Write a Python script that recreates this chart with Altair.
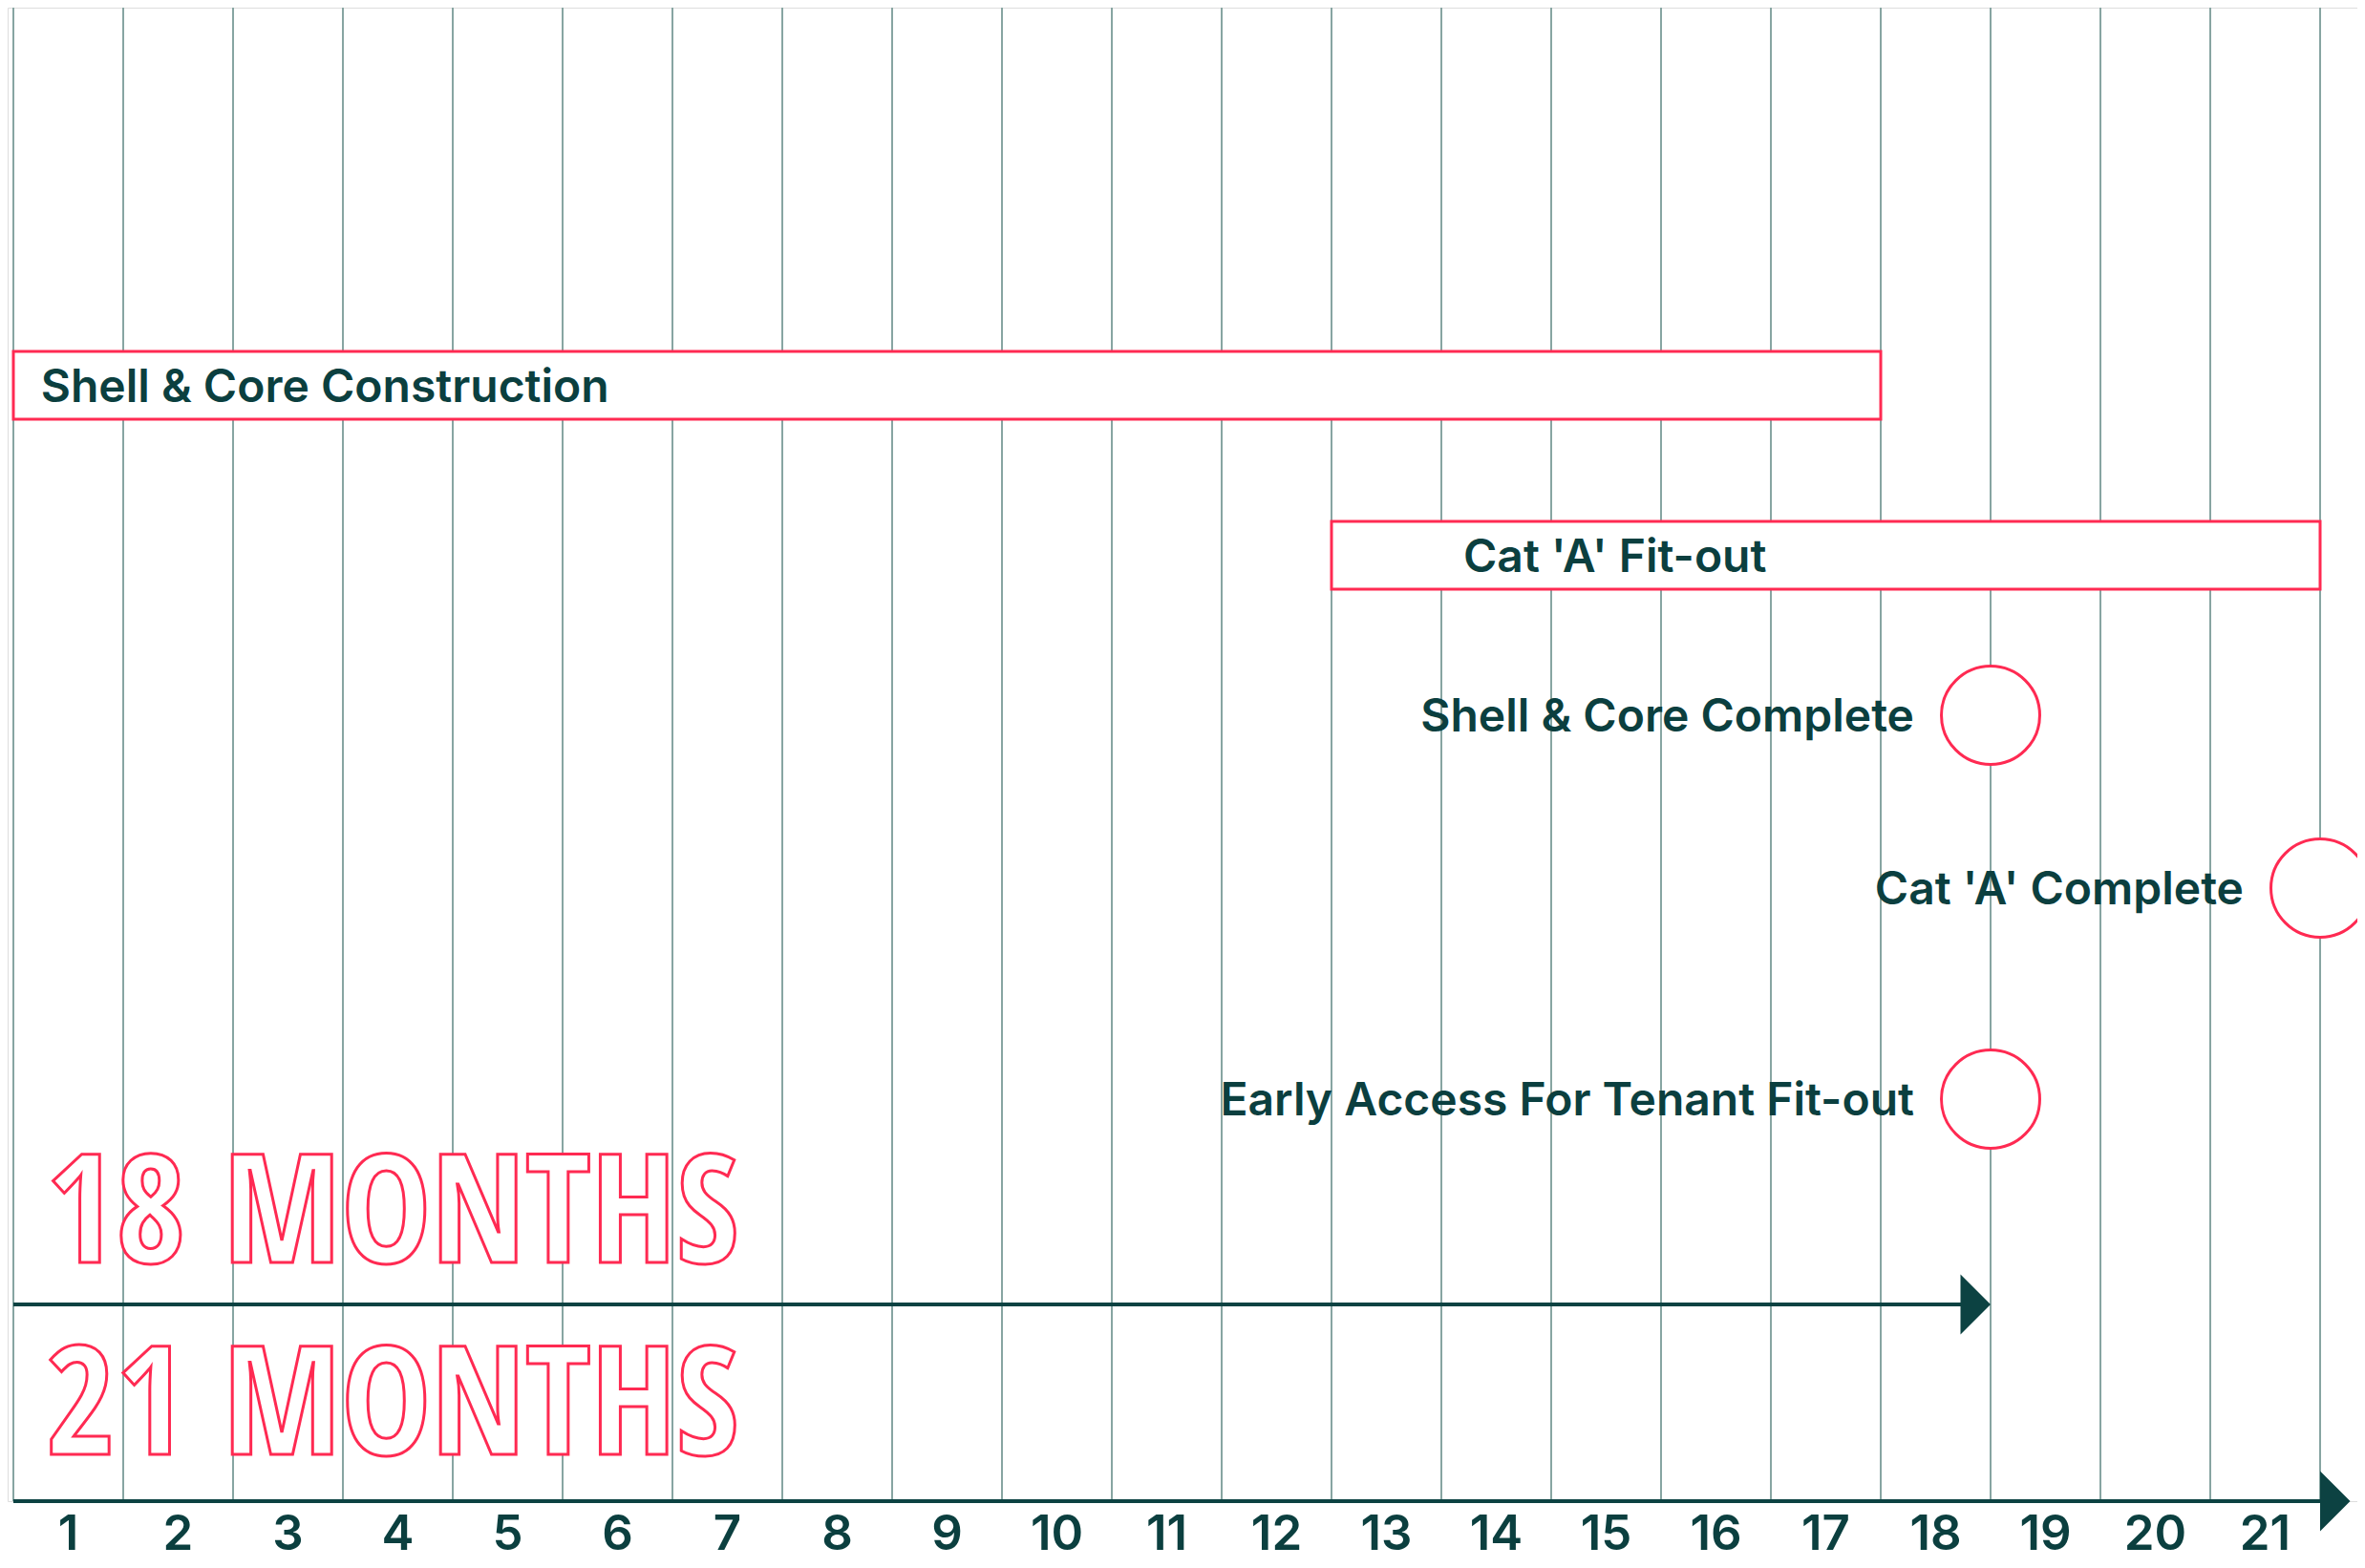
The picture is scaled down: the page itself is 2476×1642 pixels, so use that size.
import altair as alt
import pandas as pd

# ---------------- data ----------------
month_labels = [str(m) for m in range(1, 22)]
gridline_months = list(range(0, 22))

tasks = ["Shell & Core Construction", "Cat 'A' Fit-out"]
task_start = [0, 12]
task_end = [17, 21]
task_label_at = [0.25, 13.2]

milestones = ["Shell & Core Complete", "Cat 'A' Complete", "Early Access For Tenant Fit-out"]
milestone_month = [18, 21, 18]

durations = ["18 MONTHS", "21 MONTHS"]
duration_end = [18, 21]

# ---------------- layout / style ----------------
W, H = 2460, 1564
task_top = [360, 538]
task_bottom = [431, 609]
milestone_rows = [741, 922, 1143]
duration_text_rows = [1314, 1515]
duration_arrow_rows = [1358, 1564]
label_row = 1615

PX_PER_MONTH = 115.0
X0 = 6.0
x_scale = alt.Scale(domain=[-X0 / PX_PER_MONTH, (W - X0) / PX_PER_MONTH], nice=False, zero=False)
y_scale = alt.Scale(domain=[0, H], reverse=True, nice=False, zero=False)

TEXT = "#0b3f3f"
RED = "#ff2a52"
GRID = "#87a5a2"
DARK = "#0c4242"
FONT = "Inter"
OUTLINE_FONT = ("'Noto Sans Condensed', 'Open Sans Condensed', "
                "'Liberation Sans Narrow', 'DejaVu Sans Condensed', sans-serif")

grid_df = pd.DataFrame({"m": gridline_months})
task_df = pd.DataFrame({"task": tasks, "start": task_start, "end": task_end,
                        "label_at": task_label_at, "top": task_top, "bottom": task_bottom,
                        "mid": [(a + b) / 2 for a, b in zip(task_top, task_bottom)]})
ms_df = pd.DataFrame({"name": milestones, "m": milestone_month, "row": milestone_rows})
dur_df = pd.DataFrame({"label": durations, "end": duration_end, "start": [0, 0],
                       "text_row": duration_text_rows, "arrow_row": duration_arrow_rows})
lab_df = pd.DataFrame({"pos": [i + 0.5 for i in range(len(month_labels))], "label": month_labels,
                       "row": [label_row] * len(month_labels)})

X = lambda f: alt.X(f, type="quantitative", scale=x_scale, axis=None)
Y = lambda f: alt.Y(f, type="quantitative", scale=y_scale, axis=None)

# gridlines (full plot height)
grid = alt.Chart(grid_df).mark_rule(color=GRID, strokeWidth=2).encode(x=X("m"))

# month labels
labels = alt.Chart(lab_df).mark_text(align="center", baseline="alphabetic", font=FONT,
                                     fontSize=51, fontWeight=600, color=TEXT).encode(
    x=X("pos"), y=Y("row"), text="label:N")

# duration arrows lines
arrow18 = alt.Chart(dur_df.iloc[[0]]).mark_rule(color=DARK, strokeWidth=4, x2Offset=-20).encode(
    x=X("start"), x2="end:Q", y=Y("arrow_row"))
arrow21 = alt.Chart(dur_df.iloc[[1]]).mark_rule(color=DARK, strokeWidth=4).encode(
    x=X("start"), x2="end:Q", y=Y("arrow_row"))
head18 = alt.Chart(dur_df.iloc[[0]]).mark_point(shape="M-1,-1L0,0L-1,1Z", size=3969, filled=True,
                                                 color=DARK, opacity=1).encode(x=X("end"), y=Y("arrow_row"))
head21 = alt.Chart(dur_df.iloc[[1]]).mark_point(shape="M0,-1L1,0L0,1Z", size=3969, filled=True,
                                                 color=DARK, opacity=1).encode(x=X("end"), y=Y("arrow_row"))

# task bars
bars = alt.Chart(task_df).mark_rect(fill="white", stroke=RED, strokeWidth=3).encode(
    x=X("start"), x2="end:Q", y=Y("top"), y2="bottom:Q")
bar_text = alt.Chart(task_df).mark_text(align="left", baseline="middle", dy=3, font=FONT,
                                        fontSize=48, fontWeight=600, color=TEXT).encode(
    x=X("label_at"), y=Y("mid"), text="task:N")

# milestones
circles = alt.Chart(ms_df).mark_point(shape="circle", size=10600, fill="white", stroke=RED,
                                      strokeWidth=3, filled=False, opacity=1).encode(
    x=X("m"), y=Y("row"))
ms_text = alt.Chart(ms_df).mark_text(align="right", baseline="middle", dx=-80, dy=3, font=FONT,
                                     fontSize=48, fontWeight=600, color=TEXT).encode(
    x=X("m"), y=Y("row"), text="name:N")

# outlined duration text
dur_text = alt.Chart(dur_df).mark_text(align="left", baseline="alphabetic", dx=34, font=OUTLINE_FONT,
                                       fontSize=158, fontWeight="bold", fill="white", stroke=RED,
                                       strokeWidth=3).encode(
    x=X("start"), y=Y("text_row"), text="label:N")

chart = alt.layer(grid, labels, arrow18, arrow21, bars, bar_text, circles, ms_text,
                  dur_text, head18, head21).properties(
    width=W, height=H,
    autosize=alt.AutoSizeParams(type="none"),
    padding={"left": 0, "top": 0, "right": 0, "bottom": 62},
).configure_view(stroke="transparent", strokeWidth=0).configure(background="white")

chart.save("out.html", embed_options={"renderer": "svg", "actions": False})
